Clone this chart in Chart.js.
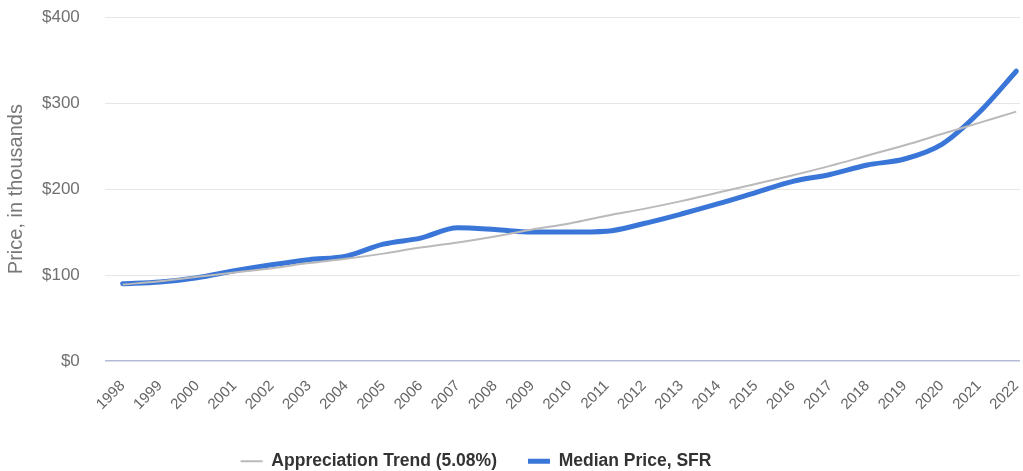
<!DOCTYPE html>
<html>
<head>
<meta charset="utf-8">
<script src="https://cdn.jsdelivr.net/npm/chart.js@4/dist/chart.umd.min.js"></script>
<style>
  body { margin: 0; background: #fff; }
  #wrap { width: 1023px; height: 471px; }
</style>
</head>
<body>
<div id="wrap"><canvas id="priceChart"></canvas></div>
<script>
// years on the x axis
const years = [1998, 1999, 2000, 2001, 2002, 2003, 2004, 2005, 2006, 2007, 2008, 2009,
  2010, 2011, 2012, 2013, 2014, 2015, 2016, 2017, 2018, 2019, 2020, 2021, 2022];

// median price, single family residence (thousands)
const medianPrice = [90, 92, 97, 105, 112, 118, 122, 136, 143, 155, 153, 150,
  150, 151, 160, 171, 183, 196, 209, 217, 228, 235, 252, 289, 337];

// appreciation trend line (thousands)
const trend = [89, 93, 98, 103, 108, 114, 119, 125, 132, 138, 145, 153,
  160, 169, 177, 186, 196, 206, 216, 227, 239, 251, 264, 277, 290];

const yTicks = [0, 100, 200, 300, 400];

const toPoints = arr => arr.map((v, i) => ({ x: years[i], y: v }));

Chart.defaults.font.family = '"Liberation Sans", Arial, sans-serif';

// legend sits a bit left of the canvas centre in the original
const legendShift = {
  id: 'legendShift',
  afterLayout(chart) {
    chart.legend.left -= 36;
    chart.legend.right -= 36;
  }
};

const ctx = document.getElementById('priceChart').getContext('2d');
const chart = new Chart(ctx, {
  type: 'line',
  data: {
    datasets: [
      {
        label: 'Appreciation Trend (5.08%)',
        data: toPoints(trend),
        borderColor: '#bababa',
        backgroundColor: '#bababa',
        borderWidth: 2,
        pointRadius: 0,
        tension: 0.4
      },
      {
        label: 'Median Price, SFR',
        data: toPoints(medianPrice),
        borderColor: '#3a76d8',
        backgroundColor: '#3a76d8',
        borderWidth: 5,
        borderCapStyle: 'round',
        pointRadius: 0,
        tension: 0.4,
        cubicInterpolationMode: 'monotone'
      }
    ]
  },
  plugins: [legendShift],
  options: {
    responsive: true,
    maintainAspectRatio: false,
    animation: false,
    layout: { padding: { top: 17, right: 3, left: 4, bottom: -9 } },
    plugins: {
      tooltip: { enabled: false },
      legend: {
        position: 'bottom',
        labels: {
          usePointStyle: true,
          pointStyle: 'line',
          pointStyleWidth: 22,
          padding: 31,
          color: '#333',
          font: { size: 17.5, weight: 'bold' }
        }
      }
    },
    scales: {
      x: {
        type: 'linear',
        min: 1997.52,
        max: 2022.1,
        afterBuildTicks: s => { s.ticks = years.map(v => ({ value: v })); },
        afterFit: s => { s.paddingRight = 0; },
        grid: { display: false },
        border: { display: false },
        ticks: {
          color: '#666',
          font: { size: 15 },
          maxRotation: 45,
          minRotation: 45,
          autoSkip: false,
          padding: 8,
          callback: v => String(v)
        }
      },
      y: {
        min: 0,
        max: 400,
        afterBuildTicks: s => { s.ticks = yTicks.map(v => ({ value: v })); },
        afterFit: s => { s.paddingTop = 0; },
        border: { display: false },
        grid: {
          color: c => c.tick && c.tick.value === 0 ? '#b4bad4' : '#e6e6e6',
          lineWidth: c => c.tick && c.tick.value === 0 ? 1.5 : 1,
          drawTicks: true,
          tickLength: 21,
          tickColor: 'transparent'
        },
        ticks: {
          color: '#707070',
          font: { size: 17 },
          padding: 4,
          callback: v => '$' + v
        },
        title: {
          display: true,
          text: 'Price, in thousands',
          color: '#777',
          font: { size: 20 },
          padding: { top: 0, bottom: 10 }
        }
      }
    }
  }
});
</script>
</body>
</html>
